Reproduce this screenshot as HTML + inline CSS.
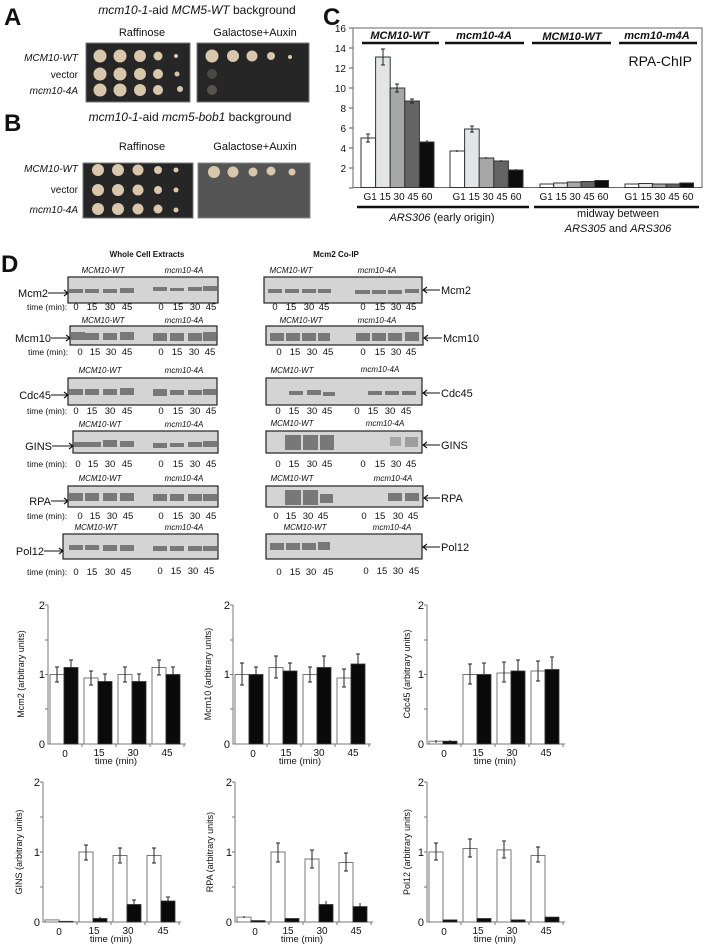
<!DOCTYPE html>
<html><head><meta charset="utf-8"><style>
html,body{margin:0;padding:0;background:#fff}
svg{display:block}
text{font-family:"Liberation Sans",Arial,sans-serif;fill:#111}
.i{font-style:italic}
.b{fill:#d4d4d4;stroke:#222;stroke-width:1.2}
.bd{fill:#5a5a5a;opacity:.75}
.ax{stroke:#777;stroke-width:1;fill:none}
.w{fill:#fff;stroke:#777;stroke-width:1}
.k{fill:#0a0a0a;stroke:#333;stroke-width:.8}
.e{stroke:#222;stroke-width:1;fill:none}
.col{fill:#d8c7ad}
</style></head><body>
<svg width="704" height="944" viewBox="0 0 704 944" xmlns="http://www.w3.org/2000/svg">
<!-- Panel A -->
<text x="4" y="25" font-size="24" font-weight="bold">A</text>
<text x="197" y="14" font-size="12" text-anchor="middle"><tspan class="i">mcm10-1</tspan>-aid <tspan class="i">MCM5-WT</tspan> background</text>
<text x="142" y="36" font-size="11" text-anchor="middle">Raffinose</text>
<text x="255" y="36" font-size="11" text-anchor="middle">Galactose+Auxin</text>
<text x="78" y="61" font-size="10" text-anchor="end" class="i">MCM10-WT</text>
<text x="78" y="78" font-size="10" text-anchor="end">vector</text>
<text x="78" y="94" font-size="10" text-anchor="end" class="i">mcm10-4A</text>
<rect x="86" y="43" width="104" height="59" fill="#262626" stroke="#777"/>
<rect x="197" y="43" width="112" height="59" fill="#262626" stroke="#777"/>
<g class="col">
<circle cx="100" cy="56" r="6.5"/><circle cx="120" cy="56" r="6.5"/><circle cx="140" cy="56" r="6"/><circle cx="158" cy="56" r="4.5"/><circle cx="176" cy="56" r="2"/>
<circle cx="100" cy="74" r="6.5"/><circle cx="120" cy="74" r="6.5"/><circle cx="140" cy="74" r="6"/><circle cx="158" cy="74" r="5"/><circle cx="177" cy="74" r="2.5"/>
<circle cx="100" cy="90" r="6.5"/><circle cx="120" cy="90" r="6.5"/><circle cx="140" cy="90" r="6"/><circle cx="158" cy="90" r="5"/><circle cx="180" cy="89" r="3"/>
<circle cx="212" cy="56" r="6.5"/><circle cx="233" cy="56" r="6"/><circle cx="252" cy="56" r="5.5"/><circle cx="271" cy="56" r="4"/><circle cx="290" cy="57" r="2"/>
</g>
<circle cx="212" cy="74" r="5" fill="#4a4a44"/><circle cx="212" cy="90" r="5" fill="#55554d"/>
<!-- Panel B -->
<text x="4" y="131" font-size="24" font-weight="bold">B</text>
<text x="190" y="121" font-size="12" text-anchor="middle"><tspan class="i">mcm10-1</tspan>-aid <tspan class="i">mcm5-bob1</tspan> background</text>
<text x="142" y="150" font-size="11" text-anchor="middle">Raffinose</text>
<text x="255" y="150" font-size="11" text-anchor="middle">Galactose+Auxin</text>
<text x="78" y="172" font-size="10" text-anchor="end" class="i">MCM10-WT</text>
<text x="78" y="193" font-size="10" text-anchor="end">vector</text>
<text x="78" y="213" font-size="10" text-anchor="end" class="i">mcm10-4A</text>
<rect x="83" y="163" width="110" height="55" fill="#262626" stroke="#777"/>
<rect x="198" y="163" width="112" height="55" fill="#555" stroke="#888"/>
<g class="col">
<circle cx="98" cy="170" r="6"/><circle cx="118" cy="170" r="6"/><circle cx="138" cy="170" r="5.5"/><circle cx="158" cy="170" r="4"/><circle cx="176" cy="170" r="2.5"/>
<circle cx="98" cy="190" r="6"/><circle cx="118" cy="190" r="6"/><circle cx="138" cy="190" r="5.5"/><circle cx="158" cy="190" r="4"/><circle cx="176" cy="190" r="2.5"/>
<circle cx="98" cy="209" r="6"/><circle cx="118" cy="209" r="6"/><circle cx="138" cy="209" r="5.5"/><circle cx="158" cy="209" r="4.5"/><circle cx="176" cy="210" r="2.5"/>
<circle cx="214" cy="172" r="6"/><circle cx="233" cy="172" r="5.5"/><circle cx="253" cy="172" r="4.5"/><circle cx="271" cy="171" r="4.5"/><circle cx="292" cy="172" r="3.5"/>
</g>
<!-- Panel C -->
<text x="323" y="25" font-size="24" font-weight="bold">C</text>
<g font-size="10" text-anchor="end">
<text x="346" y="32">16</text><text x="346" y="52">14</text><text x="346" y="72">12</text><text x="346" y="92">10</text>
<text x="346" y="112">8</text><text x="346" y="132">6</text><text x="346" y="152">4</text><text x="346" y="172">2</text>
</g>
<g stroke="#555" stroke-width="1">
<line x1="349" y1="28" x2="353" y2="28"/><line x1="349" y1="48" x2="353" y2="48"/><line x1="349" y1="68" x2="353" y2="68"/><line x1="349" y1="88" x2="353" y2="88"/><line x1="349" y1="108" x2="353" y2="108"/><line x1="349" y1="128" x2="353" y2="128"/><line x1="349" y1="148" x2="353" y2="148"/><line x1="349" y1="168" x2="353" y2="168"/><line x1="349" y1="188" x2="353" y2="188"/>
</g>
<rect x="353" y="28" width="349" height="159.5" fill="none" stroke="#666" stroke-width="1"/>
<g font-size="11" class="i" text-anchor="middle" font-weight="bold">
<text x="400" y="39" class="i">MCM10-WT</text><text x="484" y="39" class="i">mcm10-4A</text>
<text x="572" y="40" class="i">MCM10-WT</text><text x="657" y="39" class="i">mcm10-m4A</text>
</g>
<g stroke="#111" stroke-width="2.5">
<line x1="362" y1="43" x2="439" y2="43"/><line x1="445" y1="43" x2="524" y2="43"/><line x1="532" y1="43" x2="611" y2="43"/><line x1="619" y1="43" x2="697" y2="43"/>
</g>
<text x="692" y="66" font-size="14" text-anchor="end">RPA-ChIP</text>
<g stroke="#333" stroke-width="1">
<rect x="361" y="138" width="14.6" height="49.5" fill="#fff"/>
<rect x="375.6" y="57" width="14.6" height="130.5" fill="#e2e5e5"/>
<rect x="390.2" y="88" width="14.6" height="99.5" fill="#a7a7a7"/>
<rect x="404.8" y="101" width="14.6" height="86.5" fill="#646464"/>
<rect x="419.4" y="142" width="14.6" height="45.5" fill="#0d0d0d"/>
<rect x="450" y="151" width="14.6" height="36.5" fill="#fff"/>
<rect x="464.6" y="129" width="14.6" height="58.5" fill="#e2e5e5"/>
<rect x="479.2" y="158" width="14.6" height="29.5" fill="#a7a7a7"/>
<rect x="493.8" y="161" width="14.6" height="26.5" fill="#646464"/>
<rect x="508.4" y="170" width="14.6" height="17.5" fill="#0d0d0d"/>
<rect x="540" y="184" width="13.7" height="3.5" fill="#fff"/>
<rect x="553.7" y="183" width="13.7" height="4.5" fill="#e2e5e5"/>
<rect x="567.4" y="182" width="13.7" height="5.5" fill="#a7a7a7"/>
<rect x="581.1" y="181.5" width="13.7" height="6" fill="#646464"/>
<rect x="594.8" y="180.5" width="13.7" height="7" fill="#0d0d0d"/>
<rect x="625" y="184" width="13.7" height="3.5" fill="#fff"/>
<rect x="638.7" y="183.5" width="13.7" height="4" fill="#e2e5e5"/>
<rect x="652.4" y="184" width="13.7" height="3.5" fill="#a7a7a7"/>
<rect x="666.1" y="184" width="13.7" height="3.5" fill="#646464"/>
<rect x="679.8" y="183" width="13.7" height="4.5" fill="#0d0d0d"/>
</g>
<g class="e">
<path d="M368 134v8M366 134h4M366 142h4"/><path d="M383 49v16M381 49h4M381 65h4"/><path d="M397 84v8M395 84h4M395 92h4"/><path d="M412 99v4M410 99h4M410 103h4"/><path d="M427 140v4"/>
<path d="M457 150v2"/><path d="M472 126v6M470 126h4M470 132h4"/><path d="M486 157v2"/><path d="M501 160v2"/><path d="M516 169v2"/>
</g>
<g font-size="10" text-anchor="middle">
<text x="398" y="200">G1 15 30 45 60</text><text x="487" y="200">G1 15 30 45 60</text>
<text x="574" y="200">G1 15 30 45 60</text><text x="659" y="200">G1 15 30 45 60</text>
</g>
<g stroke="#111" stroke-width="2.5"><line x1="357" y1="207" x2="529" y2="207"/><line x1="534" y1="207" x2="699" y2="207"/></g>
<text x="442" y="221" font-size="11" text-anchor="middle"><tspan class="i">ARS306</tspan> (early origin)</text>
<text x="618" y="217" font-size="11" text-anchor="middle">midway between</text>
<text x="618" y="232" font-size="11" text-anchor="middle"><tspan class="i">ARS305</tspan> and <tspan class="i">ARS306</tspan></text>
<!-- Panel D -->
<text x="1" y="272" font-size="24" font-weight="bold">D</text>
<text x="147" y="257" font-size="8" font-weight="bold" text-anchor="middle">Whole Cell Extracts</text>
<text x="336" y="257" font-size="8" font-weight="bold" text-anchor="middle">Mcm2 Co-IP</text>
<g font-size="8" class="i" text-anchor="middle">
<text x="103" y="273">MCM10-WT</text><text x="184" y="273">mcm10-4A</text><text x="291" y="273">MCM10-WT</text><text x="377" y="273">mcm10-4A</text>
<text x="103" y="323">MCM10-WT</text><text x="184" y="323">mcm10-4A</text><text x="301" y="323">MCM10-WT</text><text x="377" y="323">mcm10-4A</text>
<text x="100" y="373">MCM10-WT</text><text x="184" y="373">mcm10-4A</text><text x="292" y="373">MCM10-WT</text><text x="380" y="372">mcm10-4A</text>
<text x="100" y="427">MCM10-WT</text><text x="184" y="427">mcm10-4A</text><text x="292" y="426">MCM10-WT</text><text x="385" y="426">mcm10-4A</text>
<text x="100" y="481">MCM10-WT</text><text x="184" y="481">mcm10-4A</text><text x="292" y="481">MCM10-WT</text><text x="393" y="481">mcm10-4A</text>
<text x="96" y="530">MCM10-WT</text><text x="184" y="530">mcm10-4A</text><text x="305" y="530">MCM10-WT</text><text x="392" y="530">mcm10-4A</text>
</g>
<!-- WCE boxes -->
<rect class="b" x="68" y="277" width="150" height="26"/>
<rect class="b" x="70" y="326" width="147" height="19"/>
<rect class="b" x="68" y="378" width="149" height="27"/>
<rect class="b" x="73" y="431" width="145" height="22"/>
<rect class="b" x="68" y="486" width="150" height="21"/>
<rect class="b" x="63" y="534" width="155" height="25"/>
<!-- CoIP boxes -->
<rect class="b" x="264" y="277" width="158" height="26"/>
<rect class="b" x="266" y="326" width="157" height="19"/>
<rect class="b" x="266" y="378" width="156" height="27"/>
<rect class="b" x="266" y="431" width="156" height="22"/>
<rect class="b" x="266" y="486" width="157" height="21"/>
<rect class="b" x="266" y="534" width="156" height="25"/>
<!-- bands WCE -->
<g class="bd">
<rect x="69" y="289" width="14" height="4"/><rect x="85" y="289" width="14" height="4"/><rect x="103" y="289" width="14" height="4"/><rect x="120" y="288" width="14" height="5"/>
<rect x="153" y="287" width="14" height="4"/><rect x="170" y="288" width="14" height="3"/><rect x="188" y="287" width="14" height="4"/><rect x="203" y="286" width="14" height="5"/>
<rect x="71" y="332" width="14" height="8"/><rect x="85" y="333" width="14" height="7"/><rect x="103" y="333" width="14" height="7"/><rect x="120" y="332" width="14" height="8"/>
<rect x="153" y="333" width="14" height="8"/><rect x="170" y="333" width="14" height="8"/><rect x="188" y="333" width="14" height="8"/><rect x="203" y="332" width="14" height="9"/>
<rect x="69" y="389" width="14" height="6"/><rect x="85" y="389" width="14" height="6"/><rect x="103" y="389" width="14" height="6"/><rect x="120" y="388" width="14" height="7"/>
<rect x="153" y="389" width="14" height="7"/><rect x="170" y="390" width="14" height="5"/><rect x="188" y="390" width="14" height="5"/><rect x="203" y="389" width="14" height="6"/>
<rect x="74" y="442" width="13" height="5"/><rect x="87" y="442" width="14" height="5"/><rect x="103" y="440" width="14" height="7"/><rect x="120" y="441" width="14" height="6"/>
<rect x="153" y="443" width="14" height="5"/><rect x="170" y="443" width="14" height="4"/><rect x="188" y="442" width="14" height="5"/><rect x="203" y="441" width="14" height="6"/>
<rect x="69" y="493" width="14" height="8"/><rect x="85" y="493" width="14" height="8"/><rect x="103" y="493" width="14" height="8"/><rect x="120" y="493" width="14" height="8"/>
<rect x="153" y="494" width="14" height="7"/><rect x="170" y="494" width="14" height="7"/><rect x="188" y="494" width="14" height="7"/><rect x="203" y="494" width="14" height="7"/>
<rect x="69" y="545" width="14" height="5"/><rect x="85" y="545" width="14" height="5"/><rect x="103" y="545" width="14" height="6"/><rect x="120" y="545" width="14" height="6"/>
<rect x="153" y="546" width="14" height="5"/><rect x="170" y="546" width="14" height="5"/><rect x="188" y="546" width="14" height="5"/><rect x="203" y="546" width="14" height="5"/>
</g>
<!-- bands CoIP -->
<g class="bd">
<rect x="268" y="289" width="14" height="4"/><rect x="285" y="289" width="14" height="4"/><rect x="302" y="289" width="14" height="4"/><rect x="318" y="289" width="13" height="4"/>
<rect x="355" y="290" width="15" height="4"/><rect x="372" y="290" width="14" height="4"/><rect x="388" y="290" width="14" height="4"/><rect x="405" y="289" width="14" height="4"/>
<rect x="270" y="333" width="14" height="8"/><rect x="286" y="333" width="14" height="8"/><rect x="302" y="333" width="14" height="8"/><rect x="318" y="333" width="12" height="8"/>
<rect x="356" y="333" width="14" height="8"/><rect x="372" y="333" width="14" height="8"/><rect x="388" y="333" width="14" height="8"/><rect x="405" y="332" width="14" height="9"/>
<rect x="289" y="391" width="14" height="4"/><rect x="307" y="390" width="14" height="5"/><rect x="323" y="392" width="12" height="4"/>
<rect x="368" y="391" width="14" height="4"/><rect x="385" y="391" width="14" height="4"/><rect x="402" y="391" width="14" height="4"/>
<rect x="285" y="435" width="16" height="15"/><rect x="303" y="435" width="15" height="15"/><rect x="320" y="435" width="14" height="15"/>
<rect x="390" y="437" width="11" height="9" opacity=".5"/><rect x="405" y="437" width="13" height="10" opacity=".6"/>
<rect x="285" y="490" width="16" height="15"/><rect x="303" y="490" width="15" height="15"/><rect x="320" y="494" width="13" height="9"/>
<rect x="388" y="493" width="14" height="8"/><rect x="405" y="493" width="14" height="8"/>
<rect x="270" y="543" width="14" height="7"/><rect x="286" y="543" width="14" height="7"/><rect x="302" y="543" width="14" height="7"/><rect x="318" y="542" width="12" height="8"/>
</g>
<!-- left labels -->
<g font-size="11" text-anchor="end">
<text x="48" y="297">Mcm2</text><text x="51" y="342">Mcm10</text><text x="51" y="399">Cdc45</text><text x="52" y="450">GINS</text><text x="51" y="505">RPA</text><text x="44" y="555">Pol12</text>
</g>
<g stroke="#111" stroke-width="1.1" fill="none">
<path d="M48 293H68M64 290l4 3-4 3"/><path d="M51 338H70M66 335l4 3-4 3"/><path d="M51 395H68M64 392l4 3-4 3"/><path d="M52 446H73M69 443l4 3-4 3"/><path d="M51 501H68M64 498l4 3-4 3"/><path d="M44 551H63M59 548l4 3-4 3"/>
<path d="M423 290H440M427 287l-4 3 4 3"/><path d="M424 338H442M428 335l-4 3 4 3"/><path d="M423 393H440M427 390l-4 3 4 3"/><path d="M423 445H440M427 442l-4 3 4 3"/><path d="M424 498H440M428 495l-4 3 4 3"/><path d="M423 547H440M427 544l-4 3 4 3"/>
</g>
<g font-size="11">
<text x="441" y="294">Mcm2</text><text x="443" y="342">Mcm10</text><text x="441" y="397">Cdc45</text><text x="441" y="449">GINS</text><text x="441" y="502">RPA</text><text x="441" y="551">Pol12</text>
</g>
<!-- time rows -->
<g font-size="8.5">
<text x="27" y="310">time (min):</text><text x="28" y="355">time (min):</text><text x="27" y="414">time (min):</text><text x="27" y="467">time (min):</text><text x="27" y="519">time (min):</text><text x="27" y="575">time (min):</text>
</g>
<g font-size="9.5" text-anchor="middle">
<text x="76" y="310">0</text><text x="92" y="310">15</text><text x="110" y="310">30</text><text x="127" y="310">45</text><text x="161" y="310">0</text><text x="178" y="310">15</text><text x="195" y="310">30</text><text x="211" y="310">45</text>
<text x="80" y="355">0</text><text x="95" y="355">15</text><text x="111" y="355">30</text><text x="127" y="355">45</text><text x="161" y="355">0</text><text x="177" y="355">15</text><text x="194" y="355">30</text><text x="210" y="355">45</text>
<text x="76" y="414">0</text><text x="92" y="414">15</text><text x="110" y="414">30</text><text x="127" y="414">45</text><text x="161" y="414">0</text><text x="178" y="414">15</text><text x="195" y="414">30</text><text x="211" y="414">45</text>
<text x="78" y="467">0</text><text x="93" y="467">15</text><text x="110" y="467">30</text><text x="127" y="467">45</text><text x="161" y="467">0</text><text x="178" y="467">15</text><text x="195" y="467">30</text><text x="211" y="467">45</text>
<text x="80" y="519">0</text><text x="95" y="519">15</text><text x="112" y="519">30</text><text x="128" y="519">45</text><text x="161" y="519">0</text><text x="178" y="519">15</text><text x="195" y="519">30</text><text x="211" y="519">45</text>
<text x="76" y="575">0</text><text x="92" y="575">15</text><text x="110" y="575">30</text><text x="126" y="575">45</text><text x="160" y="574">0</text><text x="176" y="574">15</text><text x="193" y="574">30</text><text x="209" y="574">45</text>
<text x="275" y="310">0</text><text x="291" y="310">15</text><text x="309" y="310">30</text><text x="324" y="310">45</text><text x="363" y="310">0</text><text x="380" y="310">15</text><text x="396" y="310">30</text><text x="411" y="310">45</text>
<text x="279" y="355">0</text><text x="295" y="355">15</text><text x="312" y="355">30</text><text x="328" y="355">45</text><text x="363" y="355">0</text><text x="380" y="355">15</text><text x="396" y="355">30</text><text x="411" y="355">45</text>
<text x="278" y="414">0</text><text x="294" y="414">15</text><text x="312" y="414">30</text><text x="327" y="414">45</text><text x="357" y="414">0</text><text x="373" y="414">15</text><text x="390" y="414">30</text><text x="406" y="414">45</text>
<text x="278" y="467">0</text><text x="294" y="467">15</text><text x="312" y="467">30</text><text x="327" y="467">45</text><text x="363" y="467">0</text><text x="380" y="467">15</text><text x="396" y="467">30</text><text x="411" y="467">45</text>
<text x="276" y="519">0</text><text x="291" y="519">15</text><text x="308" y="519">30</text><text x="323" y="519">45</text><text x="364" y="519">0</text><text x="380" y="519">15</text><text x="398" y="519">30</text><text x="413" y="519">45</text>
<text x="279" y="575">0</text><text x="295" y="575">15</text><text x="311" y="575">30</text><text x="328" y="575">45</text><text x="366" y="574">0</text><text x="382" y="574">15</text><text x="398" y="574">30</text><text x="414" y="574">45</text>
</g>

<!-- Bar charts: top row y0=744 k=69.5 ; bottom y0=922 k=70 -->
<!-- Chart 1 Mcm2 x0=48 -->
<g>
<path class="ax" d="M48 605V744H186M45 605h3M45 640h3M45 674.5h3M45 709h3M82 744v3M116 744v3M150 744v3M184 744v3"/>
<rect class="w" x="50" y="674.5" width="14" height="69.5"/><rect class="k" x="64" y="667.5" width="14" height="76.5"/>
<rect class="w" x="84" y="678" width="14" height="66"/><rect class="k" x="98" y="681.5" width="14" height="62.5"/>
<rect class="w" x="118" y="674.5" width="14" height="69.5"/><rect class="k" x="132" y="681.5" width="14" height="62.5"/>
<rect class="w" x="152" y="667.5" width="14" height="76.5"/><rect class="k" x="166" y="674.5" width="14" height="69.5"/>
<path class="e" d="M57 667v15M55 667h4M55 682h4M71 660v8M69 660h4M91 671v14M89 671h4M89 685h4M105 674v8M103 674h4M125 667v15M123 667h4M123 682h4M139 674v8M137 674h4M159 660v15M157 660h4M157 675h4M173 667v8M171 667h4"/>
<text x="45" y="609" font-size="11" text-anchor="end">2</text><text x="45" y="678" font-size="11" text-anchor="end">1</text><text x="45" y="748" font-size="11" text-anchor="end">0</text>
<text x="24" y="674" font-size="9" text-anchor="middle" transform="rotate(-90 24 674)">Mcm2 (arbitrary units)</text>
<g font-size="10" text-anchor="middle"><text x="65" y="757">0</text><text x="99" y="756">15</text><text x="133" y="756">30</text><text x="167" y="756">45</text></g>
<text x="116" y="764" font-size="9.5" text-anchor="middle">time (min)</text>
</g>
<!-- Chart 2 Mcm10 x0=233 -->
<g>
<path class="ax" d="M233 605V744H371M230 605h3M230 640h3M230 674.5h3M230 709h3M267 744v3M301 744v3M335 744v3M369 744v3"/>
<rect class="w" x="235" y="674.5" width="14" height="69.5"/><rect class="k" x="249" y="674.5" width="14" height="69.5"/>
<rect class="w" x="269" y="667.5" width="14" height="76.5"/><rect class="k" x="283" y="671" width="14" height="73"/>
<rect class="w" x="303" y="674.5" width="14" height="69.5"/><rect class="k" x="317" y="667.5" width="14" height="76.5"/>
<rect class="w" x="337" y="678" width="14" height="66"/><rect class="k" x="351" y="664" width="14" height="80"/>
<path class="e" d="M242 663v22M240 663h4M240 685h4M256 667v8M254 667h4M276 656v22M274 656h4M274 678h4M290 663v8M288 663h4M310 667v15M308 667h4M308 682h4M324 656v11M322 656h4M344 669v18M342 669h4M342 687h4M358 654v10M356 654h4"/>
<text x="230" y="609" font-size="11" text-anchor="end">2</text><text x="230" y="678" font-size="11" text-anchor="end">1</text><text x="230" y="748" font-size="11" text-anchor="end">0</text>
<text x="211" y="674" font-size="9" text-anchor="middle" transform="rotate(-90 211 674)">Mcm10 (arbitrary units)</text>
<g font-size="10" text-anchor="middle"><text x="253" y="757">0</text><text x="286" y="756">15</text><text x="319" y="756">30</text><text x="353" y="756">45</text></g>
<text x="300" y="764" font-size="9.5" text-anchor="middle">time (min)</text>
</g>
<!-- Chart 3 Cdc45 x0=427 -->
<g>
<path class="ax" d="M427 605V744H565M424 605h3M424 640h3M424 674.5h3M424 709h3M461 744v3M495 744v3M529 744v3M563 744v3"/>
<rect class="w" x="429" y="741.2" width="14" height="2.8"/><rect class="k" x="443" y="741.2" width="14" height="2.8"/>
<rect class="w" x="463" y="674.5" width="14" height="69.5"/><rect class="k" x="477" y="674.5" width="14" height="69.5"/>
<rect class="w" x="497" y="673" width="14" height="71"/><rect class="k" x="511" y="671" width="14" height="73"/>
<rect class="w" x="531" y="671" width="14" height="73"/><rect class="k" x="545" y="669.5" width="14" height="74.5"/>
<path class="e" d="M436 740v3M450 740v3M470 664v20M468 664h4M468 684h4M484 663v11M482 663h4M504 662v20M502 662h4M502 682h4M518 660v11M516 660h4M538 661v20M536 661h4M536 681h4M552 657v12M550 657h4"/>
<text x="424" y="609" font-size="11" text-anchor="end">2</text><text x="424" y="678" font-size="11" text-anchor="end">1</text><text x="424" y="748" font-size="11" text-anchor="end">0</text>
<text x="410" y="674" font-size="9" text-anchor="middle" transform="rotate(-90 410 674)">Cdc45 (arbitrary units)</text>
<g font-size="10" text-anchor="middle"><text x="444" y="757">0</text><text x="478" y="756">15</text><text x="512" y="756">30</text><text x="546" y="756">45</text></g>
<text x="495" y="764" font-size="9.5" text-anchor="middle">time (min)</text>
</g>
<!-- Chart 4 GINS x0=43 -->
<g>
<path class="ax" d="M43 782V922H181M40 782h3M40 817h3M40 852h3M40 887h3M77 922v3M111 922v3M145 922v3M179 922v3"/>
<rect class="w" x="45" y="919.9" width="14" height="2.1"/><rect class="k" x="59" y="921.3" width="14" height=".7"/>
<rect class="w" x="79" y="852" width="14" height="70"/><rect class="k" x="93" y="918.5" width="14" height="3.5"/>
<rect class="w" x="113" y="855.5" width="14" height="66.5"/><rect class="k" x="127" y="904.5" width="14" height="17.5"/>
<rect class="w" x="147" y="855.5" width="14" height="66.5"/><rect class="k" x="161" y="901" width="14" height="21"/>
<path class="e" d="M86 845v15M84 845h4M84 860h4M100 917v2M120 848v15M118 848h4M118 863h4M134 900v5M132 900h4M154 848v15M152 848h4M152 863h4M168 897v4M166 897h4"/>
<text x="40" y="786" font-size="11" text-anchor="end">2</text><text x="40" y="856" font-size="11" text-anchor="end">1</text><text x="40" y="926" font-size="11" text-anchor="end">0</text>
<text x="22" y="852" font-size="9" text-anchor="middle" transform="rotate(-90 22 852)">GINS (arbitrary units)</text>
<g font-size="10" text-anchor="middle"><text x="59" y="935">0</text><text x="94" y="934">15</text><text x="128" y="934">30</text><text x="163" y="934">45</text></g>
<text x="111" y="942" font-size="9.5" text-anchor="middle">time (min)</text>
</g>
<!-- Chart 5 RPA x0=235 -->
<g>
<path class="ax" d="M235 782V922H373M232 782h3M232 817h3M232 852h3M232 887h3M269 922v3M303 922v3M337 922v3M371 922v3"/>
<rect class="w" x="237" y="917.1" width="14" height="4.9"/><rect class="k" x="251" y="920.6" width="14" height="1.4"/>
<rect class="w" x="271" y="852" width="14" height="70"/><rect class="k" x="285" y="918.5" width="14" height="3.5"/>
<rect class="w" x="305" y="859" width="14" height="63"/><rect class="k" x="319" y="904.5" width="14" height="17.5"/>
<rect class="w" x="339" y="862.5" width="14" height="59.5"/><rect class="k" x="353" y="906.6" width="14" height="15.4"/>
<path class="e" d="M244 916v2M278 843v19M276 843h4M276 862h4M312 850v18M310 850h4M310 868h4M326 901v4M346 853v18M344 853h4M344 871h4M360 903v4"/>
<text x="232" y="786" font-size="11" text-anchor="end">2</text><text x="232" y="856" font-size="11" text-anchor="end">1</text><text x="232" y="926" font-size="11" text-anchor="end">0</text>
<text x="213" y="852" font-size="9" text-anchor="middle" transform="rotate(-90 213 852)">RPA (arbitrary units)</text>
<g font-size="10" text-anchor="middle"><text x="255" y="935">0</text><text x="288" y="934">15</text><text x="322" y="934">30</text><text x="356" y="934">45</text></g>
<text x="302" y="942" font-size="9.5" text-anchor="middle">time (min)</text>
</g>
<!-- Chart 6 Pol12 x0=427 -->
<g>
<path class="ax" d="M427 782V922H565M424 782h3M424 817h3M424 852h3M424 887h3M461 922v3M495 922v3M529 922v3M563 922v3"/>
<rect class="w" x="429" y="852" width="14" height="70"/><rect class="k" x="443" y="919.9" width="14" height="2.1"/>
<rect class="w" x="463" y="848.5" width="14" height="73.5"/><rect class="k" x="477" y="918.5" width="14" height="3.5"/>
<rect class="w" x="497" y="849.9" width="14" height="72.1"/><rect class="k" x="511" y="919.9" width="14" height="2.1"/>
<rect class="w" x="531" y="855.5" width="14" height="66.5"/><rect class="k" x="545" y="917.1" width="14" height="4.9"/>
<path class="e" d="M436 843v17M434 843h4M434 860h4M470 839v18M468 839h4M468 857h4M504 841v17M502 841h4M502 858h4M538 847v15M536 847h4M536 862h4"/>
<text x="424" y="786" font-size="11" text-anchor="end">2</text><text x="424" y="856" font-size="11" text-anchor="end">1</text><text x="424" y="926" font-size="11" text-anchor="end">0</text>
<text x="410" y="852" font-size="9" text-anchor="middle" transform="rotate(-90 410 852)">Pol12 (arbitrary units)</text>
<g font-size="10" text-anchor="middle"><text x="444" y="935">0</text><text x="478" y="934">15</text><text x="512" y="934">30</text><text x="546" y="934">45</text></g>
<text x="495" y="942" font-size="9.5" text-anchor="middle">time (min)</text>
</g>
</svg>
</body></html>
